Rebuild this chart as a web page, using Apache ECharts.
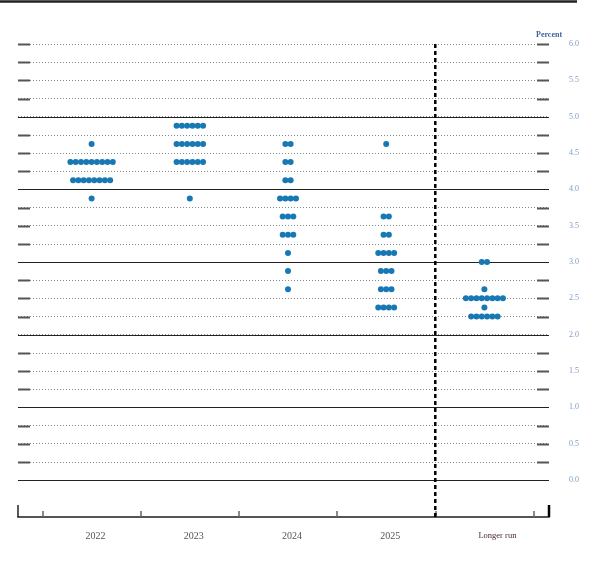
<!DOCTYPE html>
<html>
<head>
<meta charset="utf-8">
<script src="https://cdn.jsdelivr.net/npm/echarts@6/dist/echarts.min.js"></script>
<style>html,body{margin:0;padding:0;background:#fff;}#c{width:605px;height:571px;}</style>
</head>
<body>
<div id="c"></div>
<script>
var categories = ['2022', '2023', '2024', '2025', 'Longer run'];
var rates2022 = [4.625, 4.375, 4.125, 3.875];
var counts2022 = [1, 9, 8, 1];
var rates2023 = [4.875, 4.625, 4.375, 3.875];
var counts2023 = [6, 6, 6, 1];
var rates2024 = [4.625, 4.375, 4.125, 3.875, 3.625, 3.375, 3.125, 2.875, 2.625];
var counts2024 = [2, 2, 2, 4, 3, 3, 1, 1, 1];
var rates2025 = [4.625, 3.625, 3.375, 3.125, 2.875, 2.625, 2.375];
var counts2025 = [1, 2, 2, 4, 3, 3, 4];
var ratesLR = [3.0, 2.625, 2.5, 2.375, 2.25];
var countsLR = [2, 1, 8, 1, 6];
var yMin = 0, yMax = 6, yStep = 0.25;

var allRates = [rates2022, rates2023, rates2024, rates2025, ratesLR];
var allCounts = [counts2022, counts2023, counts2024, counts2025, countsLR];
var DOT_GAP = 5.3;
var dots = [];
allRates.forEach(function (rates, ci) {
  rates.forEach(function (r, ri) {
    var n = allCounts[ci][ri];
    for (var i = 0; i < n; i++) {
      dots.push({ value: [ci, r], symbolOffset: [(i - (n - 1) / 2) * DOT_GAP, 0] });
    }
  });
});
var levels = [];
for (var k = 0; k <= Math.round((yMax - yMin) / yStep); k++) levels.push([0, yMin + k * yStep]);

var GRID_TOP = 44, PLOT_BOTTOM = 480, AXIS_Y = 517;
var AXIS_OFFSET = AXIS_Y - PLOT_BOTTOM;
var lowerMin = yMin - (AXIS_Y - PLOT_BOTTOM) * (yMax - yMin) / (PLOT_BOTTOM - GRID_TOP);

var chart = echarts.init(document.getElementById('c'));
chart.setOption({
  animation: false,
  backgroundColor: '#fff',
  title: { text: 'Percent', left: 536, top: 31, padding: 0,
    textStyle: { fontFamily: 'Liberation Serif', fontSize: 8, color: '#3f62a0', fontWeight: 'bold' } },
  graphic: [{ type: 'line', shape: { x1: 0, y1: 1.5, x2: 577, y2: 1.5 }, style: { stroke: '#222', lineWidth: 2.5 } }],
  grid: [
    { left: 18, right: 56, top: GRID_TOP, bottom: 571 - PLOT_BOTTOM },
    { left: 42.5, right: 71.5, top: GRID_TOP, bottom: 571 - AXIS_Y }
  ],
  xAxis: [
    { type: 'value', gridIndex: 0, min: -0.7495, max: 4.658, offset: AXIS_OFFSET,
      axisLine: { show: true, onZero: false, lineStyle: { color: '#555', width: 2 } },
      axisTick: { show: false }, axisLabel: { show: false }, splitLine: { show: false } },
    { type: 'category', gridIndex: 1, data: categories, boundaryGap: true,
      axisLine: { show: false, onZero: false },
      axisTick: { show: true, inside: true, length: 6, interval: 0, lineStyle: { color: '#666', width: 1.5 } },
      axisLabel: { interval: 0, margin: 14,
        formatter: function (v) { return v === 'Longer run' ? '{lr|' + v + '}' : '{yr|' + v + '}'; },
        rich: {
          yr: { fontFamily: 'Liberation Serif', fontSize: 10, color: '#555', padding: [0, 0, 0, 8] },
          lr: { fontFamily: 'Liberation Serif', fontSize: 8.5, color: '#4a2535', padding: [0, 0, 0, 26] }
        } },
      splitLine: { show: false } }
  ],
  yAxis: [
    { type: 'value', gridIndex: 0, position: 'right', min: yMin, max: yMax, interval: yStep,
      axisLine: { show: false }, axisTick: { show: false },
      axisLabel: { margin: 20, fontFamily: 'Liberation Serif', fontSize: 8, color: '#7d9bc7',
        formatter: function (v) { return Math.round(v * 4) % 2 === 0 ? v.toFixed(1) : ''; } },
      splitLine: { show: true, lineStyle: { color: '#888', width: 1, type: [1, 2] } } },
    { type: 'value', gridIndex: 1, min: lowerMin, max: yMax, show: false }
  ],
  series: [
    { type: 'custom', xAxisIndex: 0, yAxisIndex: 0, data: levels, clip: false, silent: true, z: 1,
      renderItem: function (params, api) {
        var v = api.value(1);
        var y = Math.round(api.coord([0, v])[1]) + 0.5;
        var cs = params.coordSys;
        var x0 = cs.x, x1 = cs.x + cs.width;
        if (Math.abs(v - Math.round(v)) < 1e-9 && v < yMax) {
          return { type: 'line', shape: { x1: x0, y1: y, x2: x1, y2: y }, style: { stroke: '#222', lineWidth: 1.2 } };
        }
        return { type: 'group', children: [
          { type: 'line', shape: { x1: x0, y1: y, x2: x0 + 12, y2: y }, style: { stroke: '#555', lineWidth: 2 } },
          { type: 'line', shape: { x1: x1 - 12, y1: y, x2: x1, y2: y }, style: { stroke: '#555', lineWidth: 2 } }
        ] };
      } },
    { type: 'custom', xAxisIndex: 0, yAxisIndex: 0, data: [[3.5, yMax]], clip: false, silent: true, z: 3,
      renderItem: function (params, api) {
        var p = api.coord([api.value(0), api.value(1)]);
        var cs = params.coordSys;
        var yb = cs.y + cs.height + AXIS_OFFSET;
        return { type: 'group', children: [
          { type: 'line', shape: { x1: p[0], y1: p[1], x2: p[0], y2: yb }, style: { stroke: '#000', lineWidth: 2.5, lineDash: [4, 3] } },
          { type: 'line', shape: { x1: cs.x, y1: yb - 12, x2: cs.x, y2: yb }, style: { stroke: '#222', lineWidth: 1.5 } },
          { type: 'line', shape: { x1: cs.x + cs.width, y1: yb - 12, x2: cs.x + cs.width, y2: yb }, style: { stroke: '#000', lineWidth: 2.5 } }
        ] };
      } },
    { type: 'scatter', xAxisIndex: 1, yAxisIndex: 1, data: dots, symbol: 'circle', symbolSize: 6,
      itemStyle: { color: '#1878b4', opacity: 1 }, z: 5 }
  ]
});
</script>
</body>
</html>
